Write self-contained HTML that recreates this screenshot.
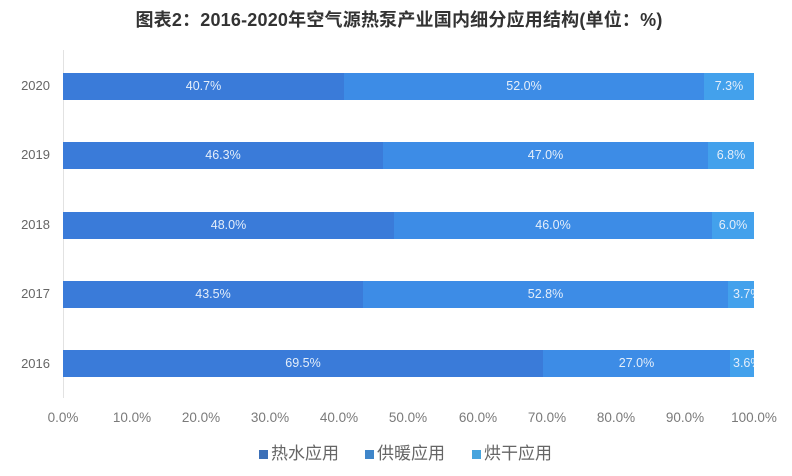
<!DOCTYPE html>
<html>
<head>
<meta charset="utf-8">
<style>
  html,body{margin:0;padding:0;background:#fff;}
  #c{position:relative;width:792px;height:476px;overflow:hidden;background:#fff;
     font-family:"Liberation Sans","Noto Sans CJK SC",sans-serif;}
  .title{position:absolute;left:0;width:798px;top:6px;text-align:center;font-size:18px;font-weight:bold;color:#333;
     font-family:"Liberation Sans","Noto Sans CJK SC",sans-serif;letter-spacing:0.2px;white-space:nowrap;}
  .axis{position:absolute;left:63px;top:50px;width:1px;height:348px;background:#e2e2e2;}
  .ylab{position:absolute;left:0;width:50px;text-align:right;font-size:13px;color:#666;line-height:16px;}
  .bar{position:absolute;left:63px;width:691px;height:27px;overflow:hidden;}
  .seg{position:absolute;top:0;height:27px;color:#e4eefa;font-size:12.5px;line-height:27px;text-align:center;white-space:nowrap;}
  .s1{background:#3a7bd9;}
  .s2{background:#3d8ce6;}
  .s3{background:#43a1ec;}
  .xt{position:absolute;top:410px;width:60px;text-align:center;font-size:13.5px;color:#7a7a7a;line-height:16px;}
  .leg{position:absolute;top:443px;font-size:17px;color:#666;line-height:22px;white-space:nowrap;}
  .sq{position:absolute;width:9px;height:9px;top:450px;}
</style>
</head>
<body>
<div id="c">
  <div class="title">图表2：2016-2020年空气源热泵产业国内细分应用结构(单位：%)</div>
  <div class="axis"></div>

  <div class="ylab" style="top:78px;">2020</div>
  <div class="ylab" style="top:147px;">2019</div>
  <div class="ylab" style="top:217px;">2018</div>
  <div class="ylab" style="top:286px;">2017</div>
  <div class="ylab" style="top:356px;">2016</div>

  <!-- 2020 -->
  <div class="bar" style="top:73px;">
    <div class="seg s1" style="left:0;width:281px;">40.7%</div>
    <div class="seg s2" style="left:281px;width:360px;">52.0%</div>
    <div class="seg s3" style="left:641px;width:50px;">7.3%</div>
  </div>
  <!-- 2019 -->
  <div class="bar" style="top:142px;">
    <div class="seg s1" style="left:0;width:320px;">46.3%</div>
    <div class="seg s2" style="left:320px;width:325px;">47.0%</div>
    <div class="seg s3" style="left:645px;width:46px;">6.8%</div>
  </div>
  <!-- 2018 -->
  <div class="bar" style="top:212px;">
    <div class="seg s1" style="left:0;width:331px;">48.0%</div>
    <div class="seg s2" style="left:331px;width:318px;">46.0%</div>
    <div class="seg s3" style="left:649px;width:42px;">6.0%</div>
  </div>
  <!-- 2017 -->
  <div class="bar" style="top:281px;">
    <div class="seg s1" style="left:0;width:300px;">43.5%</div>
    <div class="seg s2" style="left:300px;width:365px;">52.8%</div>
    <div class="seg s3" style="left:665px;width:30px;text-align:left;padding-left:5px;box-sizing:border-box;">3.7%</div>
  </div>
  <!-- 2016 -->
  <div class="bar" style="top:350px;">
    <div class="seg s1" style="left:0;width:480px;">69.5%</div>
    <div class="seg s2" style="left:480px;width:187px;">27.0%</div>
    <div class="seg s3" style="left:667px;width:30px;text-align:left;padding-left:3px;box-sizing:border-box;">3.6%</div>
  </div>

  <div class="xt" style="left:33px;">0.0%</div>
  <div class="xt" style="left:102px;">10.0%</div>
  <div class="xt" style="left:171px;">20.0%</div>
  <div class="xt" style="left:240px;">30.0%</div>
  <div class="xt" style="left:309px;">40.0%</div>
  <div class="xt" style="left:378px;">50.0%</div>
  <div class="xt" style="left:448px;">60.0%</div>
  <div class="xt" style="left:517px;">70.0%</div>
  <div class="xt" style="left:586px;">80.0%</div>
  <div class="xt" style="left:655px;">90.0%</div>
  <div class="xt" style="left:724px;">100.0%</div>

  <div class="sq" style="left:259px;background:#3c70b8;"></div>
  <div class="leg" style="left:271px;">热水应用</div>
  <div class="sq" style="left:365px;background:#3f86ca;"></div>
  <div class="leg" style="left:377px;">供暖应用</div>
  <div class="sq" style="left:472px;background:#47a4de;"></div>
  <div class="leg" style="left:484px;">烘干应用</div>
</div>
</body>
</html>
